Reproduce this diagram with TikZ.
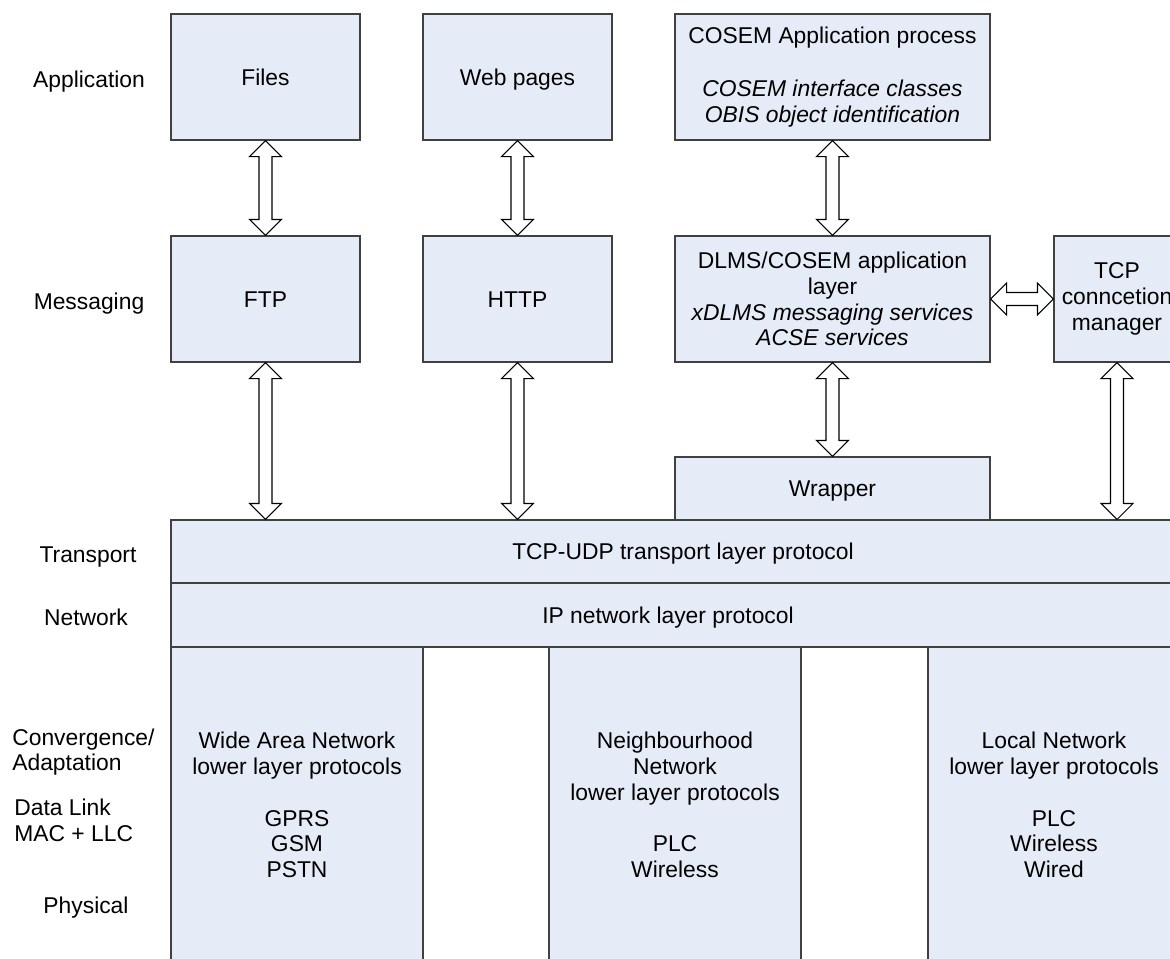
\documentclass[tikz,border=0pt]{standalone}
\usepackage{fontspec}
\setmainfont{Liberation Sans}
\usetikzlibrary{calc}
\definecolor{boxblue}{HTML}{E6ECF7}
\definecolor{boxline}{HTML}{404040}

\tikzset{
  box/.style={draw=boxline,fill=boxblue,line width=0.6pt,inner sep=0pt,align=center},
  boxsize/.style 2 args={minimum width=#1*0.02cm,minimum height=#2*0.02cm},
  oneline/.style={text height=11.3pt,text depth=2pt},
  biarr/.style={draw=black,fill=white,line width=0.6pt,line join=miter},
  layerlabel/.style={inner sep=0pt,align=left}
}
% hollow double-headed arrow between two named points
\newcommand{\biarrow}[2]{%
  \coordinate (ha) at ($(#1)!0.32cm!(#2)$);
  \coordinate (hb) at ($(#2)!0.32cm!(#1)$);
  \draw[biarr] (#1) -- ($(ha)!0.32cm!90:(#2)$) -- ($(ha)!0.13cm!90:(#2)$)
    -- ($(hb)!0.13cm!-90:(#1)$) -- ($(hb)!0.32cm!-90:(#1)$) -- (#2)
    -- ($(hb)!0.32cm!90:(#1)$) -- ($(hb)!0.13cm!90:(#1)$)
    -- ($(ha)!0.13cm!-90:(#2)$) -- ($(ha)!0.32cm!-90:(#2)$) -- cycle;
}

\begin{document}
\begin{tikzpicture}[x=0.02cm,y=-0.02cm,font=\fontsize{13}{14.7}\selectfont]
  \clip (0,0) rectangle (1170,958);

  % upper stack
  \node[box,oneline,boxsize={189}{126}] (files) at (265.5,77) {Files};
  \node[box,oneline,boxsize={189}{126}] (web) at (517.5,77) {Web pages};
  \node[box,boxsize={315}{126}] (cosem) at (832.5,77)
    {COSEM Application process\\[15.9pt]\itshape COSEM interface classes\\\itshape OBIS object identification};
  \node[box,oneline,boxsize={189}{126}] (ftp) at (265.5,299) {FTP};
  \node[box,oneline,boxsize={189}{126}] (http) at (517.5,299) {HTTP};
  \node[box,boxsize={315}{126}] (dlms) at (832.5,299)
    {DLMS/COSEM application\\layer\\\itshape xDLMS messaging services\\\itshape ACSE services};
  \node[box,boxsize={126}{126}] (tcpmgr) at (1117,299) {TCP\\conncetion\\manager};
  \node[box,oneline,boxsize={315}{63}] (wrapper) at (832.5,488.5) {Wrapper};

  % transport and network
  \node[box,oneline,boxsize={1024}{63}] (tcpudp) at (683,551.5) {TCP-UDP transport layer protocol};
  \node[box,boxsize={1024}{64}] (ip) at (683,615) {};
  \node[oneline] (iplab) at (668,615) {IP network layer protocol};

  % lower layers
  \node[box,boxsize={252}{316}] (wan) at (297,805)
    {Wide Area Network\\lower layer protocols\\ \\GPRS\\GSM\\PSTN};
  \node[box,boxsize={252}{316}] (nan) at (675,805)
    {Neighbourhood\\Network\\lower layer protocols\\ \\PLC\\Wireless};
  \node[box,boxsize={252}{316}] (lan) at (1054,805)
    {Local Network\\lower layer protocols\\ \\PLC\\Wireless\\Wired};

  % layer names
  \node[oneline] (lapp) at (89,79) {Application};
  \node[oneline] (lmsg) at (89,301) {Messaging};
  \node[oneline] (ltrn) at (88,554) {Transport};
  \node[oneline] (lnet) at (86,617) {Network};
  \node[layerlabel,anchor=west] (lconv) at (12,752) {Convergence/\\Adaptation};
  \node[layerlabel,anchor=west] (llink) at (14,820) {Data Link\\MAC + LLC};
  \node[oneline] (lphy) at (86,905) {Physical};

  % connectors
  \coordinate (ftpin) at (ftp.south |- tcpudp.north);
  \coordinate (httpin) at (http.south |- tcpudp.north);
  \coordinate (mgrin) at (tcpmgr.south |- tcpudp.north);
  \biarrow{files.south}{ftp.north}
  \biarrow{web.south}{http.north}
  \biarrow{cosem.south}{dlms.north}
  \biarrow{ftp.south}{ftpin}
  \biarrow{http.south}{httpin}
  \biarrow{dlms.south}{wrapper.north}
  \biarrow{tcpmgr.south}{mgrin}
  \biarrow{dlms.east}{tcpmgr.west}
\end{tikzpicture}
\end{document}
